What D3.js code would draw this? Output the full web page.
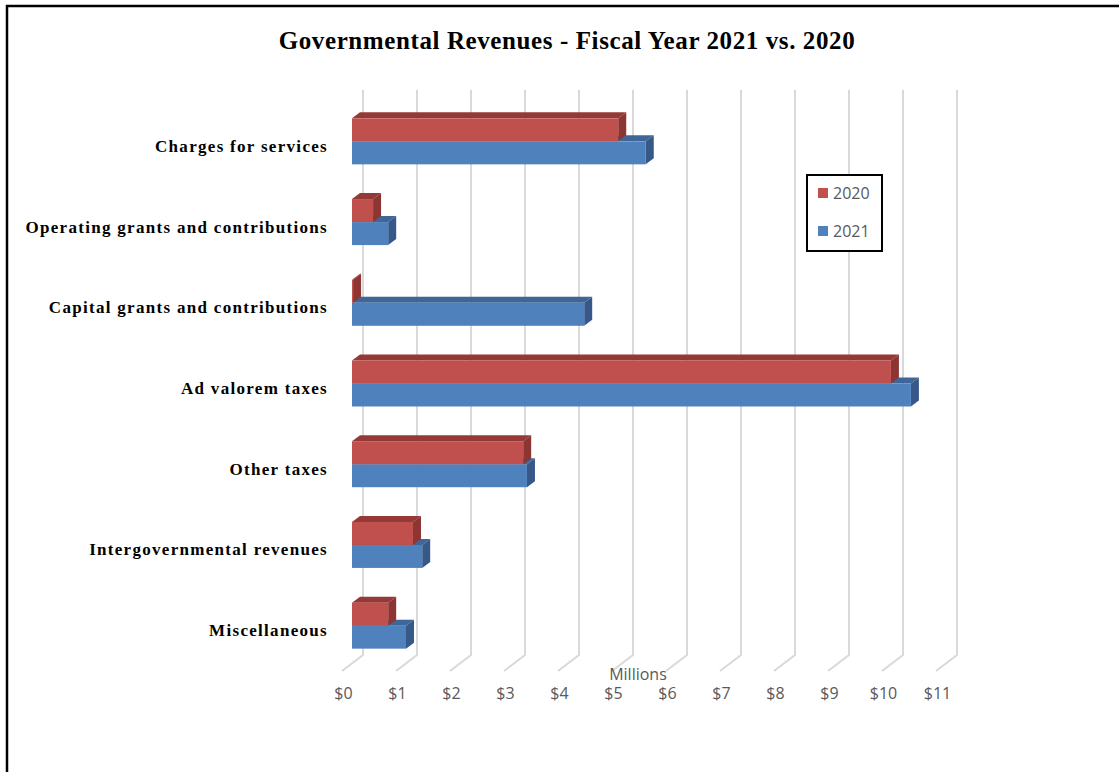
<!DOCTYPE html>
<html>
<head>
<meta charset="utf-8">
<script src="https://d3js.org/d3.v7.min.js"></script>
<style>
  body { margin: 0; background: #fff; }
</style>
</head>
<body>
<svg width="1119" height="772"></svg>
<script>
// data (millions of dollars)
var categories = ["Charges for services", "Operating grants and contributions", "Capital grants and contributions",
  "Ad valorem taxes", "Other taxes", "Intergovernmental revenues", "Miscellaneous"];
var years = ["2020", "2021"];
var values2020 = [4.93, 0.39, 0.02, 9.98, 3.17, 1.13, 0.67];
var values2021 = [5.44, 0.67, 4.30, 10.35, 3.24, 1.30, 1.00];
var tickValues = [0, 1, 2, 3, 4, 5, 6, 7, 8, 9, 10, 11];

var svg = d3.select("svg");

// kleuren: voorkant, zijkant, bovenkant
var colors = {
  "2020": {front: "#c0504d", side: "#8c3533", top: "#953937"},
  "2021": {front: "#4f81bd", side: "#37598a", top: "#3e6698"}
};

// 3d diepte van de balken
var depthX = 8, depthY = -6;

// schaal voor het vlak van de balken
var x = d3.scaleLinear().domain([0, 11]).range([352, 946]);
// schaal op de voorkant van de vloer (waar de labels staan)
var xFront = d3.scaleLinear().domain([0, 11]).range([343, 937]);

var y = d3.scaleBand().domain(categories).range([106, 671]);
var barH = 23;

// rand om de grafiek
svg.append("path")
  .attr("d", "M7,772 L7,6 L1119,6")
  .attr("fill", "none")
  .attr("stroke", "#000")
  .attr("stroke-width", 2.5);

// titel
svg.append("text")
  .attr("x", 567)
  .attr("y", 49)
  .attr("text-anchor", "middle")
  .attr("font-family", "'Liberation Serif', serif")
  .attr("font-weight", "bold")
  .attr("font-size", 25)
  .attr("letter-spacing", 0.6)
  .attr("fill", "#000")
  .text("Governmental Revenues - Fiscal Year 2021 vs. 2020");

// rasterlijnen: verticaal op de achterwand, schuin over de vloer
svg.append("g")
  .selectAll("path")
  .data(tickValues)
  .enter().append("path")
  .attr("d", function(d) {
    return "M" + (x(d) + 11) + ",90 L" + (x(d) + 11) + ",655 L" + (xFront(d) - 1) + ",671";
  })
  .attr("fill", "none")
  .attr("stroke", "#d9d9d9")
  .attr("stroke-width", 2);

// x-as labels
var xAxis = svg.append("g")
  .attr("transform", "translate(0,688)")
  .call(d3.axisBottom(xFront).tickValues(tickValues).tickSize(0).tickPadding(0)
    .tickFormat(function(d) { return "$" + d; }));
xAxis.select(".domain").remove();
xAxis.selectAll("text")
  .attr("dy", "0.71em")
  .attr("font-family", "'Open Sans', sans-serif")
  .attr("font-size", 16)
  .attr("fill", "#595959");

svg.append("text")
  .attr("x", 638)
  .attr("y", 680)
  .attr("text-anchor", "middle")
  .attr("font-family", "'Open Sans', sans-serif")
  .attr("font-size", 16)
  .attr("fill", "#595959")
  .text("Millions");

// categorie labels
var yAxis = svg.append("g")
  .attr("transform", "translate(328,0)")
  .call(d3.axisLeft(y).tickSize(0).tickPadding(0));
yAxis.select(".domain").remove();
yAxis.selectAll("text")
  .attr("font-family", "'Liberation Serif', serif")
  .attr("font-weight", "bold")
  .attr("font-size", 17)
  .attr("letter-spacing", 1.3)
  .attr("fill", "#000");

// balken per categorie: eerst 2021 (onder), dan 2020 (boven)
var bars = [];
categories.forEach(function(c, i) {
  bars.push({cat: c, year: "2021", value: values2021[i]});
  bars.push({cat: c, year: "2020", value: values2020[i]});
});

function barTop(d) {
  var mid = y(d.cat) + y.bandwidth() / 2 - 5;
  return d.year === "2020" ? mid - barH : mid;
}

var bar = svg.append("g")
  .selectAll("g")
  .data(bars)
  .enter().append("g");

// bovenkant
bar.append("path")
  .attr("d", function(d) {
    var x0 = x(0), x1 = x(d.value), t = barTop(d);
    return "M" + x0 + "," + t + " L" + (x0 + depthX) + "," + (t + depthY) +
      " L" + (x1 + depthX) + "," + (t + depthY) + " L" + x1 + "," + t + "Z";
  })
  .attr("fill", function(d) { return colors[d.year].top; });

// zijkant
bar.append("path")
  .attr("d", function(d) {
    var x1 = x(d.value), t = barTop(d);
    return "M" + x1 + "," + t + " L" + (x1 + depthX) + "," + (t + depthY) +
      " L" + (x1 + depthX) + "," + (t + barH + depthY) + " L" + x1 + "," + (t + barH) + "Z";
  })
  .attr("fill", function(d) { return colors[d.year].side; });

// voorkant
bar.append("rect")
  .attr("x", x(0))
  .attr("y", function(d) { return barTop(d); })
  .attr("width", function(d) { return x(d.value) - x(0); })
  .attr("height", barH)
  .attr("fill", function(d) { return colors[d.year].front; });

// legenda
var legend = svg.append("g")
  .attr("transform", "translate(807,175)");

legend.append("rect")
  .attr("width", 75)
  .attr("height", 76)
  .attr("fill", "#fff")
  .attr("stroke", "#000")
  .attr("stroke-width", 2);

var item = legend.selectAll(".item")
  .data(years)
  .enter().append("g")
  .attr("class", "item")
  .attr("transform", function(d, i) { return "translate(0," + (18 + i * 38) + ")"; });

item.append("rect")
  .attr("x", 11)
  .attr("y", -5)
  .attr("width", 10)
  .attr("height", 10)
  .attr("fill", function(d) { return colors[d].front; });

item.append("text")
  .attr("x", 26)
  .attr("dy", "0.35em")
  .attr("font-family", "'Open Sans', sans-serif")
  .attr("font-size", 16)
  .attr("fill", "#595959")
  .text(function(d) { return d; });
</script>
</body>
</html>
